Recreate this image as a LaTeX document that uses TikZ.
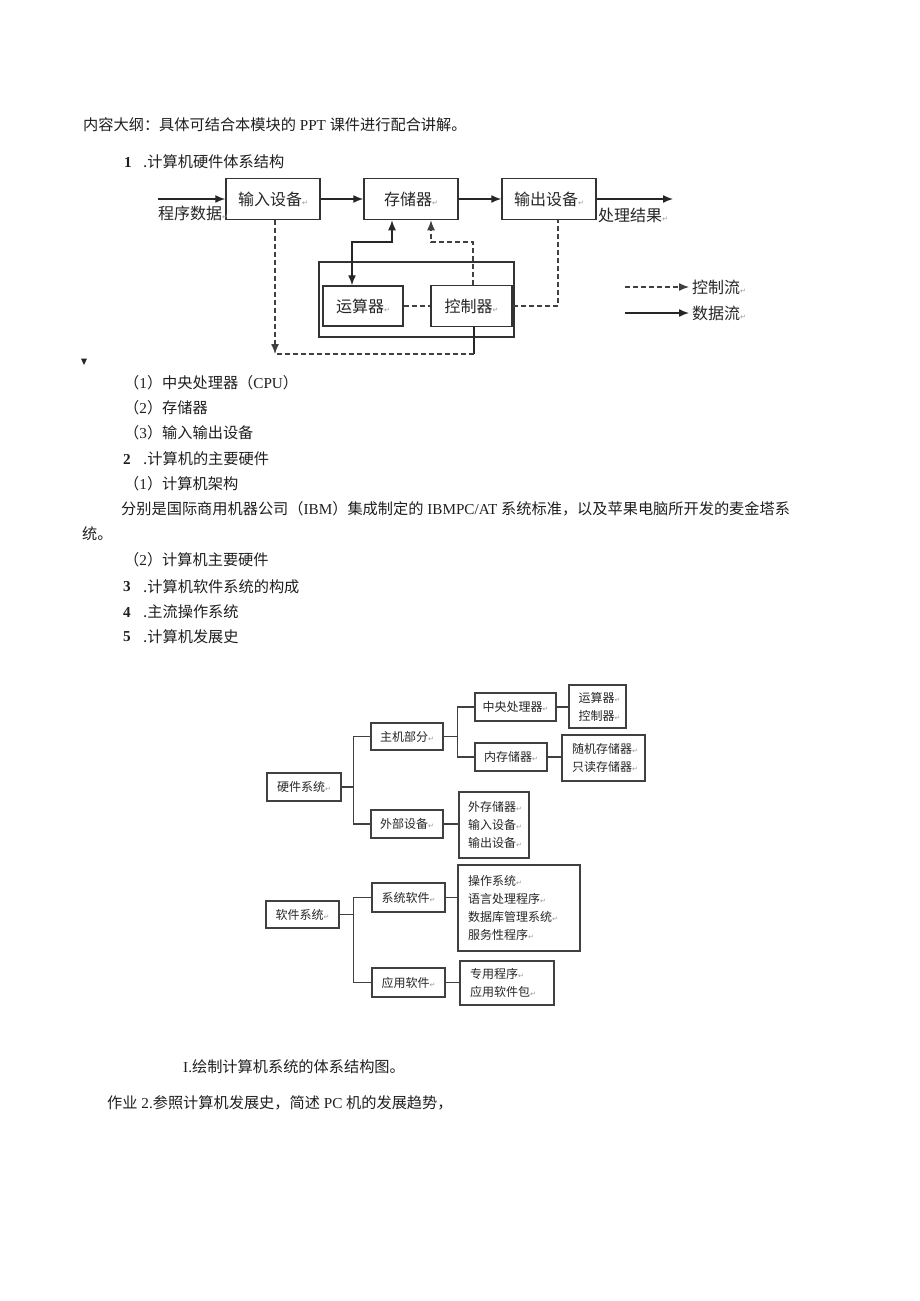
\documentclass[tikz,border=0pt]{standalone}
\usepackage{fontspec}
\setmainfont{Liberation Serif}
\newfontfamily\cjk{Noto Sans CJK SC}
\newfontfamily\dv{DejaVu Sans}
\usetikzlibrary{arrows.meta}
\newcommand{\rtn}{{\dv\fontsize{7}{7}\selectfont\color{black!40}↵}}
\newcommand{\bodyf}{\fontsize{15.2}{18}\selectfont}
\newcommand{\diagf}{\cjk\fontsize{16}{19}\selectfont}
\newcommand{\treef}{\cjk\fontsize{12}{18}\selectfont}
\begin{document}
\begin{tikzpicture}[x=1pt,y=-1pt,
  txt/.style={anchor=west, inner sep=0pt, text=black!88, font=\bodyf},
  ctxt/.style={txt, font=\bodyf\cjk},
  dtxt/.style={anchor=west, inner sep=0pt, text=black!85, font=\diagf},
  dbox/.style={draw=black!80, line width=1.5pt, inner sep=0pt, font=\diagf, text=black!85},
  flow/.style={line width=1.4pt, draw=black!85},
  ctrl/.style={line width=1.3pt, draw=black!75, dash pattern=on 5pt off 3pt},
  tip/.style={-{Latex[length=10pt,width=8pt]}},
  tbox/.style={draw=black!75, line width=1.3pt, inner sep=0pt, font=\treef, text=black!85},
  tlist/.style={tbox, align=left, inner xsep=10pt, inner ysep=0pt},
  tline/.style={line width=1.3pt, draw=black!75}]
\useasboundingbox (0,0) rectangle (920,1301);
\fill[white] (0,0) rectangle (920,1301);

% ---------- text ----------
\node[txt] (t0) at (83,125) {{\cjk 内容大纲：具体可结合本模块的} PPT {\cjk 课件进行配合讲解。}};
\node[txt] (n1) at (124,162) {\bfseries 1};
\node[ctxt] (h1) at (143,162) {.计算机硬件体系结构};

% ---------- top diagram ----------
\node[dbox, minimum width=94pt, minimum height=41pt] (in) at (273,199) {输入设备\rtn};
\node[dbox, minimum width=94pt, minimum height=41pt] (mem) at (411,199) {存储器\rtn};
\node[dbox, minimum width=94pt, minimum height=41pt] (out) at (549,199) {输出设备\rtn};
\node[dbox, minimum width=195pt, minimum height=75pt] (cpu) at (416.5,299.5) {};
\node[dbox, minimum width=80pt, minimum height=40pt] (alu) at (363,306) {运算器\rtn};
\node[dbox, minimum width=81pt, minimum height=41pt] (ctl) at (471.5,306) {控制器\rtn};

\coordinate (pd) at (158,199);
\coordinate (res) at (673,199);
\draw[flow,tip] (pd) -- (in.west);
\draw[flow,tip] (in.east) -- (mem.west);
\draw[flow,tip] (mem.east) -- (out.west);
\draw[flow,tip] (out.east) -- (res);
\node[dtxt] (pdl) at (158,213) {程序数据\rtn};
\node[dtxt] (resl) at (598,215) {处理结果\rtn};

\coordinate (b1) at (392,242);
\coordinate (b2) at (352,242);
\draw[flow,{Latex[length=10pt,width=8pt]}-{Latex[length=10pt,width=8pt]}] (alu.north -| b2) -- (b2) -- (b1) -- (mem.south -| b1);

\coordinate (c1) at (473,242);
\coordinate (c2) at (431,242);
\draw[ctrl,tip] (ctl.north -| c1) -- (c1) -- (c2) -- (mem.south -| c2);
\draw[ctrl] (alu.east) -- (ctl.west);
\coordinate (o1) at (558,306);
\draw[ctrl] (ctl.east) -- (o1) -- (out.south -| o1);

\coordinate (d1) at (474,354);
\coordinate (d2) at (275,354);
\draw[flow] (ctl.south -| d1) -- (d1);
\draw[ctrl] (d1) -- (d2);
\draw[ctrl,tip] (in.south -| d2) -- (d2);

% legend
\coordinate (l1) at (625,287);
\coordinate (l2) at (689,287);
\coordinate (l3) at (625,313);
\coordinate (l4) at (689,313);
\draw[ctrl,tip] (l1) -- (l2);
\draw[flow,tip] (l3) -- (l4);
\node[dtxt] (lg1) at (692,287) {控制流\rtn};
\node[dtxt] (lg2) at (692,313) {数据流\rtn};

% small marker
\fill[black!85] (81,358.5) -- (87,358.5) -- (84,365) -- cycle;

% ---------- list ----------
\node[txt] (a1) at (124,383) {{\cjk （}1{\cjk ）中央处理器（}CPU{\cjk ）}};
\node[txt] (a2) at (124,408) {{\cjk （}2{\cjk ）存储器}};
\node[txt] (a3) at (124,433) {{\cjk （}3{\cjk ）输入输出设备}};
\node[txt] (n2) at (123,459) {\bfseries 2};
\node[ctxt] (h2) at (143,459) {.计算机的主要硬件};
\node[txt] (b1t) at (124,484) {{\cjk （}1{\cjk ）计算机架构}};
\node[txt] (p1) at (121,509) {{\cjk 分别是国际商用机器公司（}IBM{\cjk ）集成制定的} IBMPC/AT {\cjk 系统标准，以及苹果电脑所开发的麦金塔系}};
\node[ctxt] (p2) at (82,534) {统。};
\node[txt] (b2t) at (124,560) {{\cjk （}2{\cjk ）计算机主要硬件}};
\node[txt] (n3) at (123,587) {\bfseries 3};
\node[ctxt] (h3) at (143,587) {.计算机软件系统的构成};
\node[txt] (n4) at (123,612) {\bfseries 4};
\node[ctxt] (h4) at (143,612) {.主流操作系统};
\node[txt] (n5) at (123,637) {\bfseries 5};
\node[ctxt] (h5) at (143,637) {.计算机发展史};

% ---------- tree ----------
\node[tbox, minimum width=74pt, minimum height=28pt] (hw) at (304,787) {硬件系统\rtn};
\node[tbox, minimum width=72pt, minimum height=27pt] (host) at (407,736.5) {主机部分\rtn};
\node[tbox, minimum width=72pt, minimum height=28pt] (ext) at (407,824) {外部设备\rtn};
\node[tbox, minimum width=81pt, minimum height=28pt] (cpu2) at (515.5,707) {中央处理器\rtn};
\node[tbox, minimum width=72pt, minimum height=28pt] (ram) at (511,757) {内存储器\rtn};
\node[tlist, text width=38pt, inner xsep=9.5pt, minimum height=43pt] (cl) at (597.5,706.5) {运算器\rtn\\控制器\rtn};
\node[tlist, text width=63pt, minimum height=46pt] (rl) at (603.5,758) {随机存储器\rtn\\只读存储器\rtn};
\node[tlist, text width=52pt, inner xsep=9pt, minimum height=66pt] (el) at (494,825) {外存储器\rtn\\输入设备\rtn\\输出设备\rtn};

\draw[tline] (hw.east) -- ++(12,0) |- (host.west);
\draw[tline] (hw.east) -- ++(12,0) |- (ext.west);
\draw[tline] (host.east) -- ++(14,0) |- (cpu2.west);
\draw[tline] (host.east) -- ++(14,0) |- (ram.west);
\draw[tline] (cpu2.east) -- (cl.west |- cpu2.east);
\draw[tline] (ram.east) -- (rl.west |- ram.east);
\draw[tline] (ext.east) -- (el.west |- ext.east);

\node[tbox, minimum width=73pt, minimum height=27pt] (sw) at (302.5,914.5) {软件系统\rtn};
\node[tbox, minimum width=73pt, minimum height=29pt] (sys) at (408.5,897.5) {系统软件\rtn};
\node[tbox, minimum width=73pt, minimum height=29pt] (app) at (408.5,982.5) {应用软件\rtn};
\node[tlist, text width=102pt, minimum height=86pt] (sl) at (519,908) {操作系统\rtn\\语言处理程序\rtn\\数据库管理系统\rtn\\服务性程序\rtn};
\node[tlist, text width=74pt, minimum height=44pt] (al) at (507,983) {专用程序\rtn\\应用软件包\rtn};

\draw[tline] (sw.east) -- ++(14,0) |- (sys.west);
\draw[tline] (sw.east) -- ++(14,0) |- (app.west);
\draw[tline] (sys.east) -- (sl.west |- sys.east);
\draw[tline] (app.east) -- (al.west |- app.east);

% ---------- bottom text ----------
\node[txt] (q1) at (183,1067) {I.{\cjk 绘制计算机系统的体系结构图。}};
\node[txt] (q2) at (107,1103) {{\cjk 作业} 2.{\cjk 参照计算机发展史，简述} PC {\cjk 机的发展趋势，}};
\end{tikzpicture}
\end{document}
